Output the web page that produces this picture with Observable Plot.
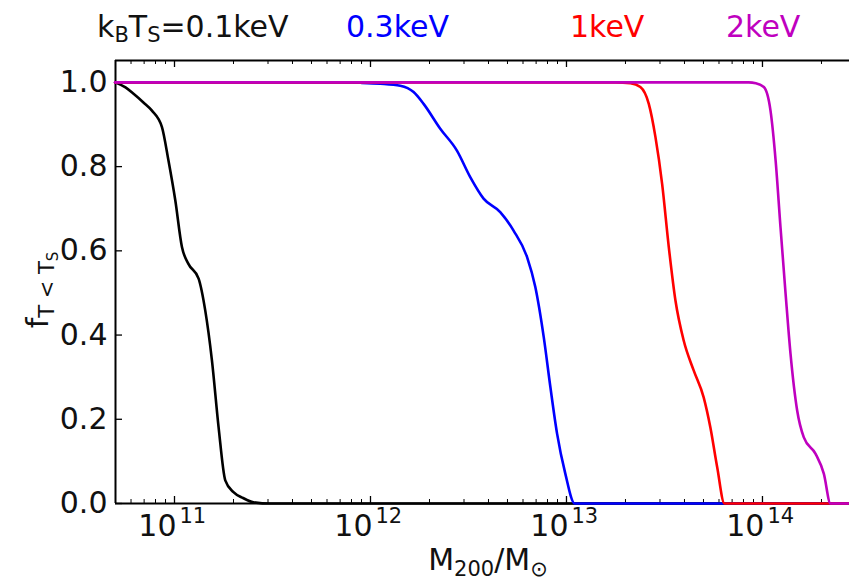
<!DOCTYPE html>
<html><head><meta charset="utf-8">
<script src="https://cdn.jsdelivr.net/npm/d3@7"></script>
<script src="https://cdn.jsdelivr.net/npm/@observablehq/plot@0.6"></script>
<style>body{margin:0;background:#fff;} #chart{width:849px;height:581px;}</style>
</head><body><div id="chart"></div>
<script>
// ---- data (x values stored as log10 of M200/Msun) ----
const seriesNames = ["0.1keV", "0.3keV", "1keV", "2keV"];
const seriesColors = ["#000000", "#0000ff", "#ff0000", "#bf00bf"];

const blackLogM = [10.697, 10.75, 10.791, 10.84, 10.885, 10.936, 10.969, 11.004, 11.038, 11.071, 11.123, 11.157, 11.191, 11.225, 11.259, 11.301, 11.35, 11.403, 11.49, 14.444];
const blackF    = [1.0, 0.988, 0.973, 0.953, 0.933, 0.894, 0.815, 0.72, 0.609, 0.569, 0.534, 0.458, 0.34, 0.181, 0.055, 0.027, 0.013, 0.003, 0.0, 0.0];

const blueLogM = [10.697, 11.80, 11.95, 12.05, 12.152, 12.22, 12.271, 12.356, 12.441, 12.509, 12.577, 12.662, 12.730, 12.799, 12.841, 12.884, 12.918, 12.952, 12.994, 13.042, 14.444];
const blueF    = [1.0, 1.0, 0.999, 0.997, 0.992, 0.977, 0.949, 0.89, 0.838, 0.775, 0.724, 0.692, 0.648, 0.585, 0.514, 0.395, 0.276, 0.166, 0.071, 0.0, 0.0];

const redLogM = [10.697, 13.25, 13.326, 13.377, 13.420, 13.454, 13.488, 13.522, 13.556, 13.598, 13.649, 13.700, 13.734, 13.769, 13.806, 14.444];
const redF    = [1.0, 1.0, 0.998, 0.989, 0.949, 0.87, 0.759, 0.609, 0.482, 0.387, 0.316, 0.252, 0.181, 0.086, 0.0, 0.0];

const magentaLogM = [10.697, 13.93, 13.966, 14.007, 14.041, 14.067, 14.092, 14.118, 14.143, 14.177, 14.211, 14.271, 14.313, 14.347, 14.444];
const magentaF    = [1.0, 1.0, 0.998, 0.989, 0.933, 0.815, 0.656, 0.498, 0.356, 0.221, 0.157, 0.118, 0.071, 0.0, 0.0];

const xDomain = [5e10, 2.78e14];
const yDomain = [0, 1.052];
const xMajorTicks = [1e11, 1e12, 1e13, 1e14];
const xTickExponents = ["11", "12", "13", "14"];
const yTicks = [0, 0.2, 0.4, 0.6, 0.8, 1.0];
const yTickLabels = ["0.0", "0.2", "0.4", "0.6", "0.8", "1.0"];

// ---- build tables ----
const allLogM = [blackLogM, blueLogM, redLogM, magentaLogM];
const allF = [blackF, blueF, redF, magentaF];
const series = allLogM.map((lm, i) => lm.map((v, j) => ({m: Math.pow(10, v), f: allF[i][j], s: seriesNames[i]})));

const xMinorTicks = [];
for (let e = 10; e <= 14; e++) for (let k = 2; k <= 9; k++) {
  const v = k * Math.pow(10, e);
  if (v > xDomain[0] && v < xDomain[1]) xMinorTicks.push(v);
}

const W = 849, H = 581, mL = 115, mR = 0, mT = 60, mB = 78;
const fw = W - mL - mR, fh = H - mT - mB;
const FS = 30;

const plot = Plot.plot({
  width: W, height: H,
  marginLeft: mL, marginRight: mR, marginTop: mT, marginBottom: mB,
  style: {fontFamily: "DejaVu Sans", background: "white", color: "black"},
  x: {type: "log", domain: xDomain, axis: null},
  y: {domain: yDomain, axis: null},
  marks: [
    // spines
    Plot.ruleY([yDomain[0]], {stroke: "black", strokeWidth: 2}),
    Plot.ruleY([yDomain[1]], {stroke: "black", strokeWidth: 2}),
    Plot.ruleX([xDomain[0]], {stroke: "black", strokeWidth: 2}),
    // inward ticks
    Plot.tickX(xMajorTicks, {x: d => d, insetTop: fh - 7, stroke: "black", strokeWidth: 1.3}),
    Plot.tickX(xMajorTicks, {x: d => d, insetBottom: fh - 7, stroke: "black", strokeWidth: 1.3}),
    Plot.tickX(xMinorTicks, {x: d => d, insetTop: fh - 4, stroke: "black", strokeWidth: 1}),
    Plot.tickX(xMinorTicks, {x: d => d, insetBottom: fh - 4, stroke: "black", strokeWidth: 1}),
    Plot.tickY(yTicks, {y: d => d, insetRight: fw - 7, stroke: "black", strokeWidth: 1.3}),
    // curves
    ...series.map((d, i) => Plot.line(d, {x: "m", y: "f", stroke: seriesColors[i], strokeWidth: 2.6, curve: "monotone-x"})),
    // tick labels
    Plot.text(yTicks, {y: d => d, text: (d, i) => yTickLabels[i], frameAnchor: "left", textAnchor: "end", dx: -8, fontSize: FS, fill: "#111"}),
    Plot.text(xMajorTicks, {x: d => d, text: () => "10", frameAnchor: "bottom", textAnchor: "end", lineAnchor: "bottom", dx: 2, dy: 32, fontSize: FS, fill: "#111"}),
    Plot.text(xMajorTicks, {x: d => d, text: (d, i) => xTickExponents[i], frameAnchor: "bottom", textAnchor: "start", lineAnchor: "bottom", dx: 5, dy: 19, fontSize: 21, fill: "#111"})
  ]
});
document.getElementById("chart").appendChild(plot);

// ---- math-style labels with sub/superscripts ----
const svg = d3.select(plot);
function mathText(x, y, parts, opts = {}) {
  const t = svg.append("text").attr("x", x).attr("y", y)
    .attr("font-family", "DejaVu Sans").attr("fill", opts.fill || "#111")
    .attr("text-anchor", opts.anchor || "start");
  if (opts.rotate) t.attr("transform", `rotate(-90 ${x} ${y})`);
  let cur = 0;
  for (const p of parts) {
    const sh = p.shift || 0;
    t.append("tspan").attr("font-size", p.size || FS).attr("dy", sh - cur).text(p.text);
    cur = sh;
  }
}
// header
mathText(97, 37, [{text: "k"}, {text: "B", size: 21, shift: 5}, {text: "T"}, {text: "S", size: 21, shift: 5}, {text: "=0.1keV"}]);
mathText(346, 37, [{text: "0.3keV"}], {fill: seriesColors[1]});
mathText(570, 37, [{text: "1keV"}], {fill: seriesColors[2]});
mathText(726, 37, [{text: "2keV"}], {fill: seriesColors[3]});
// x label
mathText(488, 570, [{text: "M"}, {text: "200", size: 21, shift: 6}, {text: "/M"}, {text: "\u2299", size: 21, shift: 6}], {anchor: "middle"});
// y label
mathText(48, 290, [{text: "f"}, {text: "T < T", size: 21, shift: 6}, {text: "S", size: 15, shift: 10}], {anchor: "middle", rotate: true});
</script>
</body></html>
